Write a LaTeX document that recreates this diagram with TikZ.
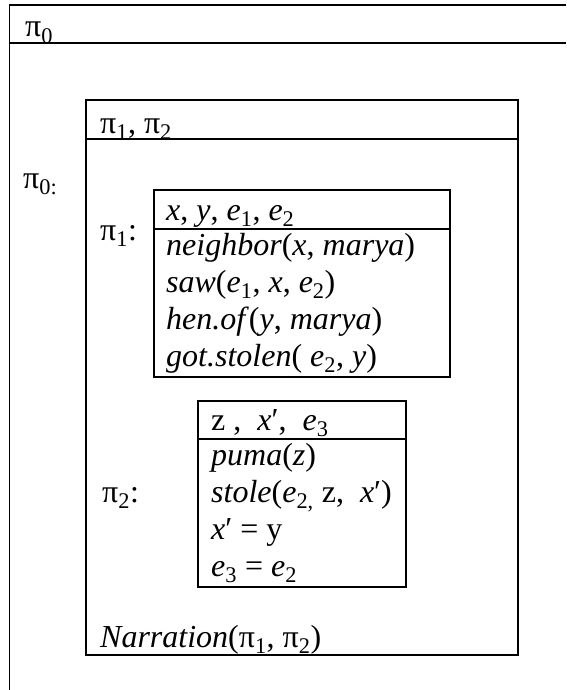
\documentclass[tikz,border=0pt]{standalone}
\usepackage{fontspec}
\setmainfont{Liberation Serif}
\newcommand\sbs[1]{\textsubscript{#1}}
\begin{document}
\begin{tikzpicture}[x=1pt,y=-1pt,
  frame/.style={line width=1.8pt, line cap=rect},
  txt/.style={anchor=base west, inner sep=0pt, font=\fontsize{32}{37}\selectfont}]
\useasboundingbox (0,0) rectangle (566,690);
% outer box pi_0 (extends beyond the picture)
\draw[frame,line cap=butt] (566,5) -- (9.5,5) -- (9.5,690);
\draw[frame,line cap=butt] (9.5,43) -- (566,43);
% middle box
\draw[frame] (86,100) rectangle (518,655);
\draw[frame] (86,139) -- (518,139);
% pi_1 box
\draw[frame] (154,190) rectangle (450,377);
\draw[frame] (154,229) -- (450,229);
% pi_2 box
\draw[frame] (198,401) rectangle (406,587);
\draw[frame] (198,439) -- (406,439);
% texts
\node[txt] (h0) at (25,37) {π\sbs{0}};
\node[txt] (l0) at (23,188) {π\sbs{0:}};
\node[txt] (h12) at (100,133) {π\sbs{1}, π\sbs{2}};
\node[txt] (l1) at (100,240) {π\sbs{1}:};
\node[txt] (l2) at (102,502) {π\sbs{2}:};
% pi_1 content
\node[txt] (a0) at (166,220) {\textit{x}, \textit{y}, \textit{e}\sbs{1}, \textit{e}\sbs{2}};
\node[txt] (a1) at (166,255) {\textit{neighbor}(\textit{x}, \textit{marya})};
\node[txt] (a2) at (166,292) {\textit{saw}(\textit{e}\sbs{1}, \textit{x}, \textit{e}\sbs{2})};
\node[txt] (a3) at (166,329) {\textit{hen.of}(\textit{y}, \textit{marya})};
\node[txt] (a4) at (166,366) {\textit{got.stolen}( \textit{e}\sbs{2}, \textit{y})};
% pi_2 content
\node[txt] (b0) at (211,430) {z ,\ \ \textit{x}′,\ \ \textit{e}\sbs{3}};
\node[txt] (b1) at (211,465) {\textit{puma}(\textit{z})};
\node[txt] (b2) at (211,502) {\textit{stole}(\textit{e}\sbs{2,} z,\ \ \textit{x}′)};
\node[txt] (b3) at (211,539) {\textit{x}′ = y};
\node[txt] (b4) at (211,576) {\textit{e}\sbs{3} = \textit{e}\sbs{2}};
% relation
\node[txt] (nar) at (100,647) {\textit{Narration}(π\sbs{1}, π\sbs{2})};
\end{tikzpicture}
\end{document}
